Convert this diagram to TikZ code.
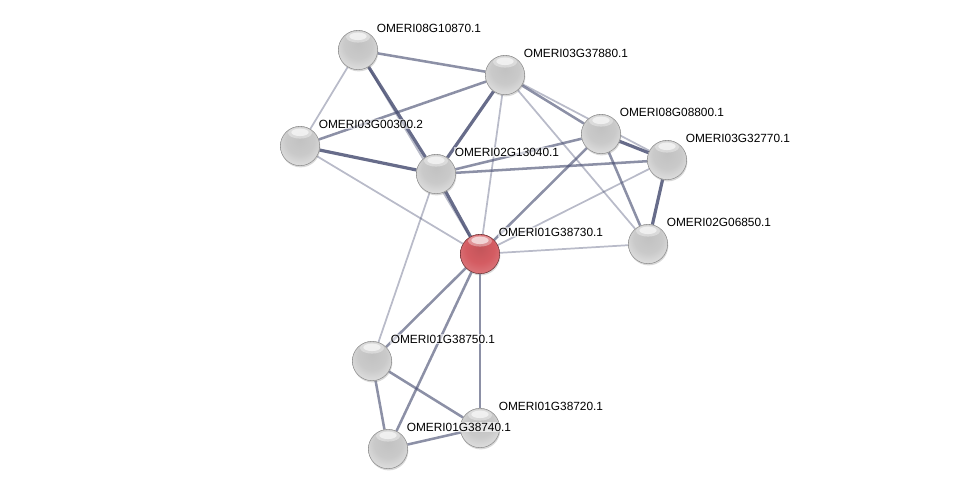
\documentclass[tikz,border=0pt]{standalone}
\usepackage{fontspec}
\setmainfont{Liberation Sans}
\usetikzlibrary{calc, shadows, backgrounds}
\definecolor{edgec}{RGB}{70,76,112}
\definecolor{seedc}{RGB}{212,92,98}
\pgfdeclareradialshading{protball}{\pgfpoint{0bp}{8bp}}{%
  color(0bp)=(black!24); color(18bp)=(black!21); color(34bp)=(black!11);
  color(43bp)=(black!5); color(46.5bp)=(black!30); color(50bp)=(black!60);
  color(100bp)=(black!60)}
\pgfdeclareradialshading{seedball}{\pgfpoint{0bp}{8bp}}{%
  color(0bp)=(seedc!92!black); color(18bp)=(seedc); color(34bp)=(seedc!80!white);
  color(43bp)=(seedc!62!white); color(46.5bp)=(seedc!85!black); color(50bp)=(seedc!55!black);
  color(100bp)=(seedc!55!black)}
\tikzset{
  prot/.style = {circle, inner sep=0pt, minimum size=29.5pt, shade, shading=protball,
                 draw=black!45, line width=0.4pt,
                 drop shadow={shadow xshift=0.5pt, shadow yshift=-1.3pt, opacity=0.3},
                 path picture={
                   \fill[white, opacity=0.35] ($(path picture bounding box.north)+(0,-5pt)$)
                     ellipse (9pt and 4.2pt);
                   \fill[white, opacity=0.6] ($(path picture bounding box.north)+(0,-4.5pt)$)
                     ellipse (6.5pt and 2.8pt);}},
  seed/.style = {prot, shading=seedball, draw=seedc!50!black},
  lbl/.style  = {anchor=west, inner sep=0.8pt, fill=white, fill opacity=0.6, text opacity=1,
                 draw=none, font=\fontsize{8.9}{10}\selectfont},
  wk/.style   = {draw=edgec, opacity=0.38, line width=1.3pt},
  md/.style   = {draw=edgec, opacity=0.62, line width=1.9pt},
  st/.style   = {draw=edgec, opacity=0.82, line width=2.4pt},
}

\begin{document}
\begin{tikzpicture}[x=0.75pt, y=-0.75pt]
  \useasboundingbox (0,0) rectangle (975,494);

  % proteins
  \foreach \n/\x/\y in {a/358/50, b/505/75, c/300/146, d/436/174, e/601/134,
                        f/667/160, g/648/244, i/372/361, j/480/428, k/388/449}
    \node[prot] (\n) at (\x,\y) {};
  \node[seed] (h) at (480,254) {};

  % interactions
  \begin{scope}[on background layer]
    \draw[md] (a) -- (b);
    \draw[wk] (a) -- (c);
    \draw[st] (a) -- (d);
    \draw[wk] (a) -- (h);
    \draw[md] (b) -- (c);
    \draw[st] (b) -- (d);
    \draw[wk] (b) -- (h);
    \draw[md] (b) -- (e);
    \draw[wk] (b) -- (f);
    \draw[wk] (b) -- (g);
    \draw[st] (c) -- (d);
    \draw[wk] (c) -- (h);
    \draw[md] (d) -- (e);
    \draw[md] (d) -- (f);
    \draw[st] (d) -- (h);
    \draw[wk] (d) -- (i);
    \draw[st] (e) -- (f);
    \draw[md] (e) -- (g);
    \draw[md] (e) -- (h);
    \draw[st] (f) -- (g);
    \draw[wk] (f) -- (h);
    \draw[wk] (g) -- (h);
    \draw[md] (h) -- (i);
    \draw[md] (h) -- (k);
    \draw[md] (h) -- (j);
    \draw[md] (i) -- (j);
    \draw[md] (i) -- (k);
    \draw[md] (k) -- (j);
  \end{scope}

  % names
  \foreach \n/\t in {a/OMERI08G10870.1, b/OMERI03G37880.1, c/OMERI03G00300.2,
                     d/OMERI02G13040.1, e/OMERI08G08800.1, f/OMERI03G32770.1,
                     g/OMERI02G06850.1, h/OMERI01G38730.1, i/OMERI01G38750.1,
                     j/OMERI01G38720.1, k/OMERI01G38740.1}
    \node[lbl] (\n-name) at ($(\n)+(17.5,-22)$) {\t};
\end{tikzpicture}
\end{document}
